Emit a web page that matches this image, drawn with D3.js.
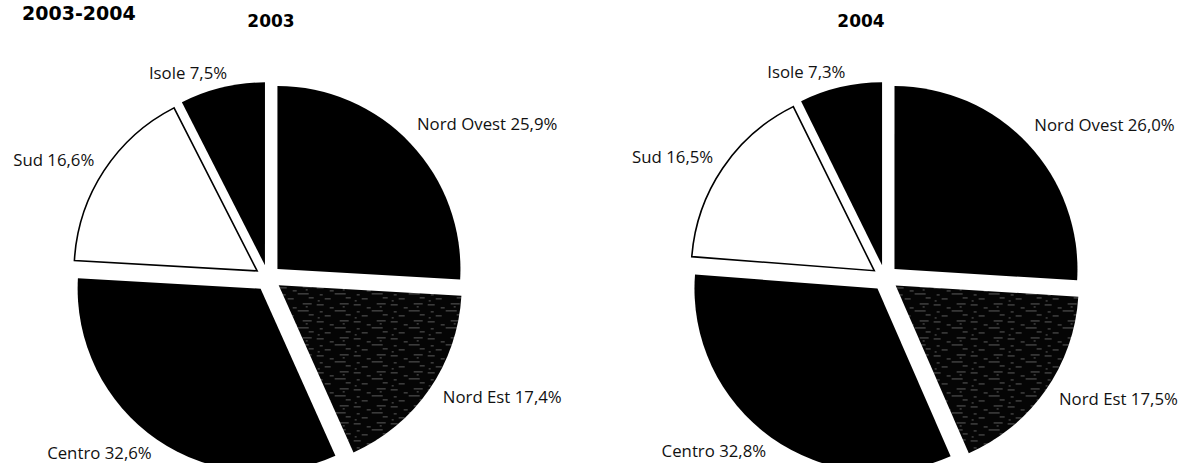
<!DOCTYPE html>
<html>
<head>
<meta charset="utf-8">
<script src="https://cdn.jsdelivr.net/npm/d3@7"></script>
<style>
  html, body { margin: 0; padding: 0; background: #fff; }
  svg { display: block; }
  .lbl { font-family: "Open Sans", "Noto Sans", sans-serif; font-size: 16.8px; fill: #111; }
  .yr { font-family: "DejaVu Sans", sans-serif; font-weight: bold; font-size: 17px; fill: #000; }
  .ttl { font-family: "DejaVu Sans", sans-serif; font-weight: bold; font-size: 19px; fill: #000; }
</style>
</head>
<body>
<svg id="chart" width="1184" height="463"></svg>
<script>
// Ripartizioni territoriali, quote percentuali
const regions = ["Nord Ovest", "Nord Est", "Centro", "Sud", "Isole"];
const years = ["2003", "2004"];
const share2003 = [25.9, 17.4, 32.6, 16.6, 7.5];
const share2004 = [26.0, 17.5, 32.8, 16.5, 7.3];
const shareLabels2003 = ["25,9%", "17,4%", "32,6%", "16,6%", "7,5%"];
const shareLabels2004 = ["26,0%", "17,5%", "32,8%", "16,5%", "7,3%"];

const svg = d3.select("#chart");

// dark fill with faint horizontal streaks for Nord Est
const defs = svg.append("defs");
const pat = defs.append("pattern")
  .attr("id", "grain").attr("patternUnits", "userSpaceOnUse")
  .attr("width", 37).attr("height", 17);
pat.append("rect").attr("width", 37).attr("height", 17).attr("fill", "#050505");
[[1,2,7],[14,5,4],[24,1,9],[4,9,3],[19,8,11],[9,13,6],[30,12,5],[2,15,2],[27,4,2]].forEach(([x,y,w]) => {
  pat.append("rect").attr("x", x).attr("y", y).attr("width", w).attr("height", 1)
    .attr("fill", "#fff").attr("opacity", 0.35);
});

const fills = ["#000", "url(#grain)", "#000", "#fff", "#000"];

const radius = 183;
const explode = 13;
const labelRadius = 205;

const pie = d3.pie().sort(null).value(d => d.value);
const arc = d3.arc().innerRadius(0).outerRadius(radius);
const mid = d => (d.startAngle + d.endAngle) / 2;

function drawPie(cx, cy, values, labels, year, titleX) {
  const g = svg.append("g").attr("transform", `translate(${cx},${cy})`);
  const data = regions.map((r, i) => ({ region: r, value: values[i], label: labels[i], i }));
  const arcs = pie(data);

  g.selectAll("path.slice").data(arcs).enter().append("path")
    .attr("class", "slice")
    .attr("transform", d => `translate(${Math.sin(mid(d)) * explode},${-Math.cos(mid(d)) * explode})`)
    .attr("d", arc)
    .attr("fill", d => fills[d.data.i])
    .attr("stroke", d => d.data.i === 3 ? "#000" : "none")
    .attr("stroke-width", 1.6)
    .attr("stroke-linejoin", "miter");

  g.selectAll("text.lbl").data(arcs).enter().append("text")
    .attr("class", "lbl")
    .attr("x", d => {
      const s = Math.sin(mid(d)), c = Math.cos(mid(d));
      let dx = 0;
      if (s > 0 && c < 0) dx = 6;       // lower right
      if (c > 0.9) dx = 7;              // near the top
      if (s < 0 && c > 0 && c <= 0.9) dx = -2;
      return s * labelRadius + dx;
    })
    .attr("y", d => {
      const s = Math.sin(mid(d)), c = Math.cos(mid(d));
      if (c < 0) return -c * labelRadius + (s < 0 ? 12 : 9);
      return -c * labelRadius + (s > 0 ? -7 : 0);
    })
    .attr("text-anchor", d => Math.sin(mid(d)) > 0 ? "start" : "end")
    .text(d => `${d.data.region} ${d.data.label}`);

  svg.append("text").attr("class", "yr")
    .attr("x", titleX).attr("y", 27).attr("text-anchor", "middle").text(year);
}

svg.append("text").attr("class", "ttl").attr("x", 22).attr("y", 20).text("2003-2004");

drawPie(268, 278, share2003, shareLabels2003, years[0], 271);
drawPie(885, 278, share2004, shareLabels2004, years[1], 861);
</script>
</body>
</html>
